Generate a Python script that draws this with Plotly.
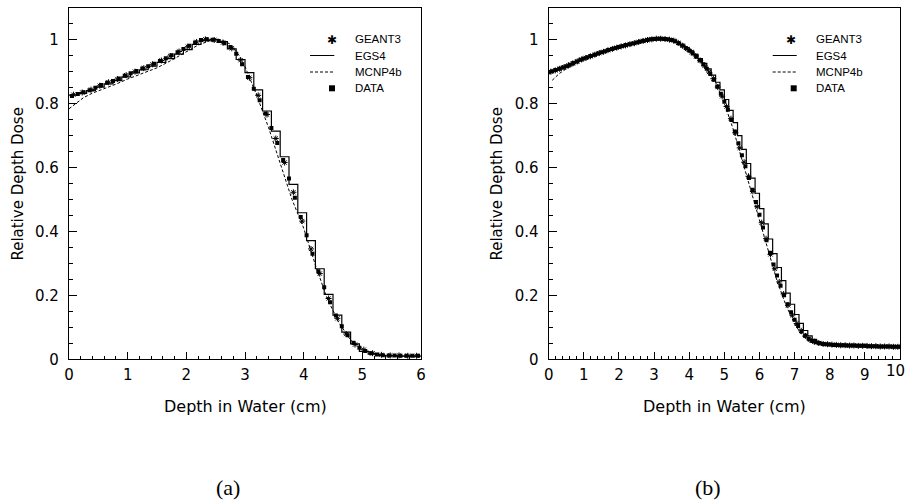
import numpy as np
import plotly.graph_objects as go

W, H = 908, 503

# ---------------- Panel (a) ----------------
a_bin_width = 0.15
a_egs4 = [0.826, 0.831, 0.840, 0.851, 0.861, 0.871, 0.883, 0.895, 0.905, 0.916,
          0.928, 0.940, 0.954, 0.968, 0.984, 0.996, 1.000, 0.993, 0.970, 0.937,
          0.896, 0.842, 0.776, 0.713, 0.633, 0.547, 0.458, 0.371, 0.283, 0.203,
          0.138, 0.085, 0.048, 0.025, 0.016, 0.012, 0.011, 0.010, 0.010, 0.010]
a_geant3 = [0.827, 0.834, 0.843, 0.855, 0.866, 0.876, 0.888, 0.899, 0.910, 0.922,
            0.934, 0.948, 0.962, 0.977, 0.992, 1.000, 0.998, 0.990, 0.972, 0.935,
            0.880, 0.825, 0.765, 0.690, 0.615, 0.522, 0.432, 0.345, 0.268, 0.190,
            0.128, 0.079, 0.046, 0.030, 0.019, 0.014, 0.012, 0.012, 0.011, 0.011]
a_data_step = 0.1
a_data = [0.823, 0.829, 0.835, 0.841, 0.849, 0.857, 0.864, 0.870, 0.878, 0.886,
          0.894, 0.901, 0.909, 0.916, 0.924, 0.932, 0.941, 0.950, 0.960, 0.970,
          0.980, 0.990, 0.998, 1.000, 0.999, 0.995, 0.988, 0.976, 0.955, 0.922,
          0.882, 0.846, 0.810, 0.768, 0.723, 0.676, 0.623, 0.565, 0.505, 0.445,
          0.388, 0.330, 0.275, 0.225, 0.178, 0.137, 0.103, 0.075, 0.052, 0.036,
          0.026, 0.019, 0.015, 0.013, 0.012, 0.012, 0.011, 0.011, 0.011, 0.011]
a_mcnp_x = [0.0, 0.1, 0.25, 0.4, 0.6, 0.8, 1.0, 1.25, 1.5, 1.75, 2.0, 2.2, 2.4, 2.6,
            2.75, 2.9, 3.0, 3.2, 3.4, 3.6, 3.8, 4.0, 4.2, 4.4, 4.6, 4.8, 5.0, 5.2,
            5.4, 5.7, 6.0]
a_mcnp_y = [0.783, 0.798, 0.818, 0.832, 0.845, 0.860, 0.876, 0.893, 0.911, 0.935,
            0.962, 0.982, 0.996, 0.998, 0.985, 0.950, 0.915, 0.825, 0.725, 0.610,
            0.500, 0.410, 0.295, 0.190, 0.115, 0.060, 0.032, 0.018, 0.012, 0.010,
            0.009]

# ---------------- Panel (b) ----------------
b_bin_width = 0.125
b_egs4 = [0.899, 0.903, 0.908, 0.913, 0.919, 0.925, 0.931, 0.937, 0.942, 0.947,
          0.952, 0.957, 0.962, 0.966, 0.970, 0.974, 0.978, 0.981, 0.985, 0.988,
          0.992, 0.995, 0.998, 1.000, 1.002, 1.003, 1.002, 1.000, 0.997, 0.991,
          0.983, 0.974, 0.964, 0.953, 0.940, 0.925, 0.908, 0.888, 0.866, 0.842,
          0.812, 0.778, 0.740, 0.699, 0.656, 0.612, 0.566, 0.519, 0.471, 0.423,
          0.376, 0.330, 0.287, 0.246, 0.207, 0.172, 0.140, 0.112, 0.090, 0.073,
          0.062, 0.055, 0.051, 0.048, 0.047, 0.046, 0.045, 0.045, 0.044, 0.044,
          0.043, 0.043, 0.042, 0.042, 0.041, 0.041, 0.040, 0.040, 0.039, 0.039]
b_geant3 = [0.899, 0.903, 0.908, 0.913, 0.919, 0.925, 0.931, 0.937, 0.942, 0.947,
            0.952, 0.957, 0.961, 0.966, 0.970, 0.974, 0.978, 0.981, 0.985, 0.988,
            0.992, 0.995, 0.998, 1.000, 1.002, 1.002, 1.001, 0.999, 0.996, 0.989,
            0.980, 0.970, 0.960, 0.948, 0.934, 0.917, 0.898, 0.877, 0.851, 0.822,
            0.790, 0.752, 0.708, 0.661, 0.616, 0.572, 0.525, 0.477, 0.427, 0.377,
            0.328, 0.283, 0.242, 0.204, 0.169, 0.138, 0.112, 0.089, 0.073, 0.061,
            0.055, 0.051, 0.048, 0.047, 0.046, 0.045, 0.044, 0.044, 0.043, 0.043,
            0.042, 0.042, 0.042, 0.041, 0.041, 0.040, 0.040, 0.040, 0.039, 0.039]
b_data_step = 0.1
b_data = [0.897, 0.900, 0.904, 0.908, 0.912, 0.916, 0.921, 0.926, 0.931, 0.936,
          0.940, 0.944, 0.948, 0.952, 0.956, 0.960, 0.963, 0.967, 0.970, 0.973,
          0.976, 0.979, 0.982, 0.985, 0.987, 0.990, 0.993, 0.996, 0.998, 1.000,
          1.001, 1.002, 1.002, 1.001, 1.000, 0.998, 0.994, 0.988, 0.981, 0.973,
          0.965, 0.956, 0.946, 0.935, 0.922, 0.908, 0.892, 0.874, 0.853, 0.830,
          0.805, 0.780, 0.748, 0.712, 0.675, 0.638, 0.603, 0.567, 0.530, 0.492,
          0.452, 0.412, 0.372, 0.333, 0.296, 0.262, 0.230, 0.200, 0.172, 0.147,
          0.124, 0.104, 0.087, 0.074, 0.064, 0.057, 0.053, 0.050, 0.048, 0.047,
          0.046, 0.045, 0.045, 0.044, 0.044, 0.043, 0.043, 0.043, 0.042, 0.042,
          0.042, 0.041, 0.041, 0.041, 0.040, 0.040, 0.040, 0.040, 0.039, 0.039,
          0.039]
b_mcnp_x = [0.1, 0.3, 0.5, 0.75, 1.0, 1.25, 1.5, 1.75, 2.0, 2.25, 2.5, 2.75, 3.0,
            3.25, 3.5, 3.75, 4.0, 4.25, 4.5, 4.75, 5.0, 5.25, 5.5, 5.75, 6.0, 6.25,
            6.5, 6.75, 7.0, 7.25, 7.5, 7.75, 8.0, 8.5, 9.0, 9.5, 10.0]
b_mcnp_y = [0.872, 0.893, 0.908, 0.922, 0.935, 0.946, 0.956, 0.965, 0.973, 0.980,
            0.987, 0.994, 0.999, 1.001, 0.998, 0.986, 0.966, 0.942, 0.908, 0.866,
            0.800, 0.720, 0.625, 0.530, 0.432, 0.335, 0.245, 0.170, 0.110, 0.070,
            0.052, 0.046, 0.044, 0.042, 0.041, 0.040, 0.039]

x_ticks_a = [0, 1, 2, 3, 4, 5, 6]
x_ticks_b = [0, 1, 2, 3, 4, 5, 6, 7, 8, 9, 10]
y_ticks = [0, 0.2, 0.4, 0.6, 0.8, 1.0]
y_ticklabels = ["0", "0.2", "0.4", "0.6", "0.8", "1"]

legend_names = ["GEANT3", "EGS4", "MCNP4b", "DATA"]
captions = ["(a)", "(b)"]
axis_x_title = "Depth in Water (cm)"
axis_y_title = "Relative Depth Dose"

SANS = "DejaVu Sans"

fig = go.Figure()


def add_panel(xa, ya, bw, egs4, geant3, dstep, data, mx, my, data_offset):
    edges = np.arange(len(egs4) + 1) * bw
    centers = (np.arange(len(geant3)) + 0.5) * bw
    dx = np.arange(len(data)) * dstep + data_offset
    fig.add_trace(go.Scatter(x=mx, y=my, mode="lines", xaxis=xa, yaxis=ya,
                             line=dict(color="black", width=1, dash="3px,2px"),
                             showlegend=False, name="MCNP4b"))
    fig.add_trace(go.Scatter(x=edges, y=list(egs4) + [egs4[-1]], mode="lines",
                             line_shape="hv", xaxis=xa, yaxis=ya,
                             line=dict(color="black", width=1.2),
                             showlegend=False, name="EGS4"))
    fig.add_trace(go.Scatter(x=dx, y=data, mode="markers", xaxis=xa, yaxis=ya,
                             marker=dict(symbol="square", size=4, color="black"),
                             showlegend=False, name="DATA"))
    fig.add_trace(go.Scatter(x=centers, y=geant3, mode="markers", xaxis=xa, yaxis=ya,
                             marker=dict(symbol="asterisk-open", size=5, color="black",
                                         line=dict(color="black", width=1)),
                             showlegend=False, name="GEANT3"))


add_panel("x", "y", a_bin_width, a_egs4, a_geant3, a_data_step, a_data,
          a_mcnp_x, a_mcnp_y, 0.05)
add_panel("x2", "y2", b_bin_width, b_egs4, b_geant3, b_data_step, b_data,
          b_mcnp_x, b_mcnp_y, 0.0)

ybot, ytop = 1 - 359.3 / H, 1 - 8 / H
dom_a = [69 / W, 421 / W]
dom_b = [548.7 / W, 900 / W]

common_x = dict(showgrid=False, zeroline=False, showline=True, linecolor="black",
                linewidth=1.3, mirror=True, ticks="inside", ticklen=7, tickwidth=1,
                tickcolor="black", tickfont=dict(family=SANS, size=15, color="black"),
                ticklabelstandoff=2, automargin=False,
                minor=dict(dtick=0.2, ticks="inside", ticklen=3, tickcolor="black", tickwidth=1))
common_y = dict(showgrid=False, zeroline=False, showline=True, linecolor="black",
                linewidth=1.3, mirror=True, ticks="inside", ticklen=8, tickwidth=1,
                tickcolor="black", tickfont=dict(family=SANS, size=15, color="black"),
                tickvals=y_ticks, ticktext=y_ticklabels, range=[0, 1.098],
                ticklabelstandoff=6, automargin=False,
                minor=dict(dtick=0.05, ticks="inside", ticklen=4, tickcolor="black", tickwidth=1))

fig.update_layout(
    width=W, height=H, margin=dict(l=0, r=0, t=0, b=0, autoexpand=False),
    paper_bgcolor="white", plot_bgcolor="white", showlegend=False,
    xaxis=dict(domain=dom_a, range=[0, 6], tickvals=x_ticks_a, anchor="y", **common_x),
    yaxis=dict(domain=[ybot, ytop], anchor="x", **common_y),
    xaxis2=dict(domain=dom_b, range=[0, 10], tickvals=x_ticks_b,
                ticktext=[str(v) for v in x_ticks_b[:-1]] + [""], anchor="y2", **common_x),
    yaxis2=dict(domain=[ybot, ytop], anchor="x2", **common_y),
)

ann = []
shapes = []


def px(x):
    return x / W


def py(y):
    return 1 - y / H


# last tick label of panel (b), kept inside the page edge
ann.append(dict(x=px(907), y=py(371), xref="paper", yref="paper",
                text=str(x_ticks_b[-1]), showarrow=False, xanchor="right", yanchor="middle",
                font=dict(family=SANS, size=15, color="black")))

for dom, ylab_x, cap_x, sym_x, line_x0, line_x1, sq_x, text_x, cap in [
    (dom_a, 18, 228, 331.7, 310, 334.3, 332, 352.7, captions[0]),
    (dom_b, 497, 707.5, 790.7, 772.7, 796.7, 793.7, 814.3, captions[1]),
]:
    ann.append(dict(x=(dom[0] + dom[1]) / 2, y=py(406), xref="paper", yref="paper",
                    xanchor="center", yanchor="middle",
                    text=axis_x_title, showarrow=False,
                    font=dict(family=SANS, size=16, color="black")))
    ann.append(dict(x=px(ylab_x), y=py(183.6), xref="paper", yref="paper",
                    xanchor="center", yanchor="middle",
                    text=axis_y_title, showarrow=False, textangle=-90,
                    font=dict(family=SANS, size=15, color="black")))
    ann.append(dict(x=px(cap_x), y=py(487), xref="paper", yref="paper",
                    xanchor="center", yanchor="middle",
                    text=cap, showarrow=False,
                    font=dict(family="Liberation Serif", size=22, color="black")))
    # legend
    rows = [39.3, 55.5, 72, 88.3]
    for name, ry in zip(legend_names, rows):
        ann.append(dict(x=px(text_x), y=py(ry), xref="paper", yref="paper",
                        xanchor="left", yanchor="middle", text=name, showarrow=False,
                        font=dict(family="Liberation Sans", size=11.5, color="black")))
    ann.append(dict(x=px(sym_x), y=py(rows[0] + 1), xref="paper", yref="paper",
                    xanchor="center", yanchor="middle", text="✱", showarrow=False,
                    font=dict(family=SANS, size=12, color="black")))
    shapes.append(dict(type="line", xref="paper", yref="paper",
                       x0=px(line_x0), x1=px(line_x1), y0=py(rows[1]), y1=py(rows[1]),
                       line=dict(color="black", width=1)))
    shapes.append(dict(type="line", xref="paper", yref="paper",
                       x0=px(line_x0), x1=px(line_x1), y0=py(rows[2]), y1=py(rows[2]),
                       line=dict(color="black", width=1, dash="3px,2px")))
    shapes.append(dict(type="rect", xref="paper", yref="paper",
                       x0=px(sq_x - 3), x1=px(sq_x + 3), y0=py(rows[3] - 3), y1=py(rows[3] + 3),
                       line=dict(width=0), fillcolor="black"))

fig.update_layout(annotations=ann, shapes=shapes)
fig.write_html("out.html",
               config={"displayModeBar": False},
               post_script="document.body.style.margin='0px';"
                           "document.body.style.overflow='hidden';")
